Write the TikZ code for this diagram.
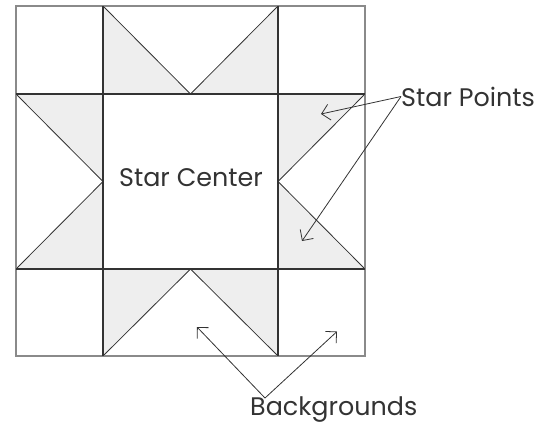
\documentclass[tikz,border=0pt]{standalone}
\usepackage{fontspec}
\setmainfont{Poppins}
\usetikzlibrary{arrows.meta}
\definecolor{patch}{HTML}{EEEEEE}
\definecolor{seam}{HTML}{333333}
\definecolor{rim}{HTML}{8A8A8A}

\begin{document}
\begin{tikzpicture}[
  x=1bp, y=-1bp,
  font=\fontsize{25.5}{30}\selectfont,
  point/.style={fill=patch},
  diag/.style={draw=seam, line width=.8bp},
  seamline/.style={draw=seam, line width=1.4bp},
  tag/.style={inner sep=0pt, text=seam},
  ptr/.style={-{Straight Barb[length=8bp,width=16bp]}, line width=.8bp, draw=seam}
]
  \useasboundingbox (0,0) rectangle (542,425);
  % star points
  \fill[point] (103,6) -- (103,94) -- (190.5,94) -- cycle;
  \fill[point] (278,6) -- (278,94) -- (190.5,94) -- cycle;
  \fill[point] (16,94) -- (103,94) -- (103,181.5) -- cycle;
  \fill[point] (16,269) -- (103,269) -- (103,181.5) -- cycle;
  \fill[point] (365,94) -- (278,94) -- (278,181.5) -- cycle;
  \fill[point] (365,269) -- (278,269) -- (278,181.5) -- cycle;
  \fill[point] (103,356) -- (103,269) -- (190.5,269) -- cycle;
  \fill[point] (278,356) -- (278,269) -- (190.5,269) -- cycle;
  \path[diag] (103,6) -- (190.5,94) -- (278,6);
  \path[diag] (16,94) -- (103,181.5) -- (16,269);
  \path[diag] (365,94) -- (278,181.5) -- (365,269);
  \path[diag] (103,356) -- (190.5,269) -- (278,356);
  % block outline and seams
  \draw[rim, line width=1.2bp] (16,6) rectangle (365,356);
  \path[seamline] (103,6) -- (103,356);
  \path[seamline] (278,6) -- (278,356);
  \path[seamline] (16,94) -- (365,94);
  \path[seamline] (16,269) -- (365,269);
  % labels
  \node[tag, anchor=base] (center) at (191,186.5) {Star Center};
  \node[tag, anchor=west] (points) at (401,96.5) {Star Points};
  \node[tag, anchor=base west] (grounds) at (250,415) {Backgrounds};
  \coordinate (ptA) at (321,114);
  \coordinate (ptB) at (302,241);
  \coordinate (bgA) at (197,327);
  \coordinate (bgB) at (337,331.5);
  \draw[ptr] (points.west) -- (ptA);
  \draw[ptr] (points.west) -- (ptB);
  \draw[ptr] ([xshift=15bp,yshift=-2bp]grounds.north west) -- (bgA);
  \draw[ptr] ([xshift=15bp,yshift=-2bp]grounds.north west) -- (bgB);
\end{tikzpicture}
\end{document}
